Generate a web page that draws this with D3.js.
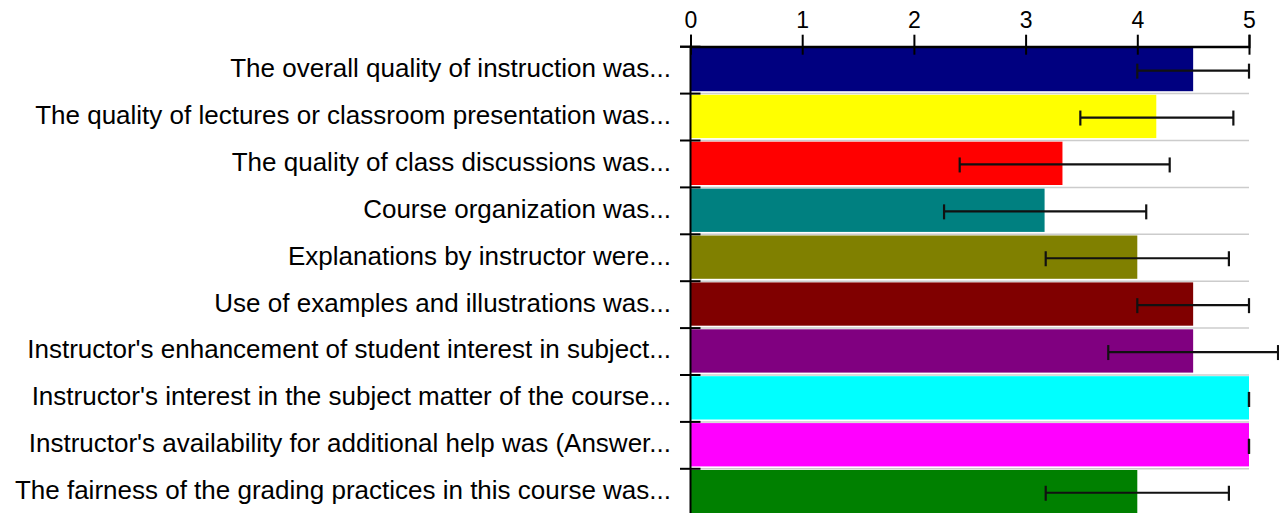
<!DOCTYPE html>
<html>
<head>
<meta charset="utf-8">
<script src="https://cdn.jsdelivr.net/npm/d3@7"></script>
<style>
  html, body { margin: 0; padding: 0; background: #ffffff; }
  svg { display: block; }
  text { font-family: "Liberation Sans", Arial, sans-serif; fill: #000; }
</style>
</head>
<body>
<svg id="chart" width="1279" height="513"></svg>
<script>
const categories = [
  "The overall quality of instruction was...",
  "The quality of lectures or classroom presentation was...",
  "The quality of class discussions was...",
  "Course organization was...",
  "Explanations by instructor were...",
  "Use of examples and illustrations was...",
  "Instructor's enhancement of student interest in subject...",
  "Instructor's interest in the subject matter of the course...",
  "Instructor's availability for additional help was (Answer...",
  "The fairness of the grading practices in this course was..."
];
const means   = [4.5, 4.17, 3.33, 3.17, 4.0, 4.5, 4.5, 5.0, 5.0, 4.0];
const errLow  = [4.0, 3.49, 2.41, 2.27, 3.18, 4.0, 3.74, 5.0, 5.0, 3.18];
const errHigh = [5.0, 4.86, 4.29, 4.08, 4.82, 5.0, 5.26, 5.0, 5.0, 4.82];
const colors  = ["#000080", "#ffff00", "#ff0000", "#008080", "#808000",
                 "#800000", "#800080", "#00ffff", "#ff00ff", "#008000"];
const tickValues = [0, 1, 2, 3, 4, 5];

const data = categories.map((c, i) => ({
  cat: c, mean: means[i], lo: errLow[i], hi: errHigh[i], color: colors[i]
}));

const svg = d3.select("#chart");
const x = d3.scaleLinear().domain([0, 5]).range([690.5, 1249]);
const plotTop = 46.7, rowH = 46.9;
const y = d3.scaleBand().domain(categories).range([plotTop, plotTop + rowH * categories.length]).padding(0);

// gridlines at row boundaries
const boundaries = d3.range(categories.length + 1).map(k => plotTop + k * y.step());
svg.append("g").selectAll("line").data(boundaries.slice(1)).join("line")
  .attr("x1", x(0)).attr("x2", x(5))
  .attr("y1", d => d).attr("y2", d => d)
  .attr("stroke", "#cccccc").attr("stroke-width", 1.5);

// bars
svg.append("g").selectAll("rect").data(data).join("rect")
  .attr("x", x(0))
  .attr("y", d => y(d.cat) + 1.2)
  .attr("width", d => x(d.mean) - x(0))
  .attr("height", y.bandwidth() - 3.6)
  .attr("fill", d => d.color);

// error bars
const eb = svg.append("g").attr("stroke", "#111").attr("stroke-width", 2.2).attr("fill", "none");
data.forEach(d => {
  const cy = y(d.cat) + y.bandwidth() / 2 + 0.5;
  eb.append("line").attr("x1", x(d.lo)).attr("x2", x(d.hi)).attr("y1", cy).attr("y2", cy);
  eb.append("line").attr("x1", x(d.lo)).attr("x2", x(d.lo)).attr("y1", cy - 7).attr("y2", cy + 8);
  eb.append("line").attr("x1", x(d.hi)).attr("x2", x(d.hi)).attr("y1", cy - 7).attr("y2", cy + 8);
});

// top axis
const xAxis = d3.axisTop(x).tickValues(tickValues).tickFormat(d3.format("d")).tickSizeOuter(0).tickSize(12).tickPadding(6.5);
const gx = svg.append("g").attr("transform", `translate(0,${plotTop})`).call(xAxis);
gx.select(".domain").attr("stroke", "#000").attr("stroke-width", 2);
gx.selectAll(".tick line").attr("y1", 8).attr("y2", -12).attr("stroke", "#000").attr("stroke-width", 2);
gx.selectAll(".tick text").attr("font-size", 23).attr("font-family", "Liberation Sans, Arial, sans-serif").attr("fill", "#000");

// left axis: vertical line + boundary ticks
svg.append("line").attr("x1", x(0)).attr("x2", x(0)).attr("y1", plotTop - 1).attr("y2", 513)
  .attr("stroke", "#000").attr("stroke-width", 2);
svg.append("g").selectAll("line").data(boundaries).join("line")
  .attr("x1", x(0) - 10.5).attr("x2", x(0) + 10)
  .attr("y1", d => d).attr("y2", d => d)
  .attr("stroke", "#000").attr("stroke-width", 2);
svg.append("line").attr("x1", x(0) - 10.5).attr("x2", x(5)).attr("y1", plotTop).attr("y2", plotTop)
  .attr("stroke", "#000").attr("stroke-width", 2);

// category labels
svg.append("g").selectAll("text").data(data).join("text")
  .attr("x", x(0) - 19.5)
  .attr("y", d => y(d.cat) + y.bandwidth() / 2 - 2.1)
  .attr("text-anchor", "end")
  .attr("dominant-baseline", "central")
  .attr("font-size", 26)
  .text(d => d.cat);
</script>
</body>
</html>
